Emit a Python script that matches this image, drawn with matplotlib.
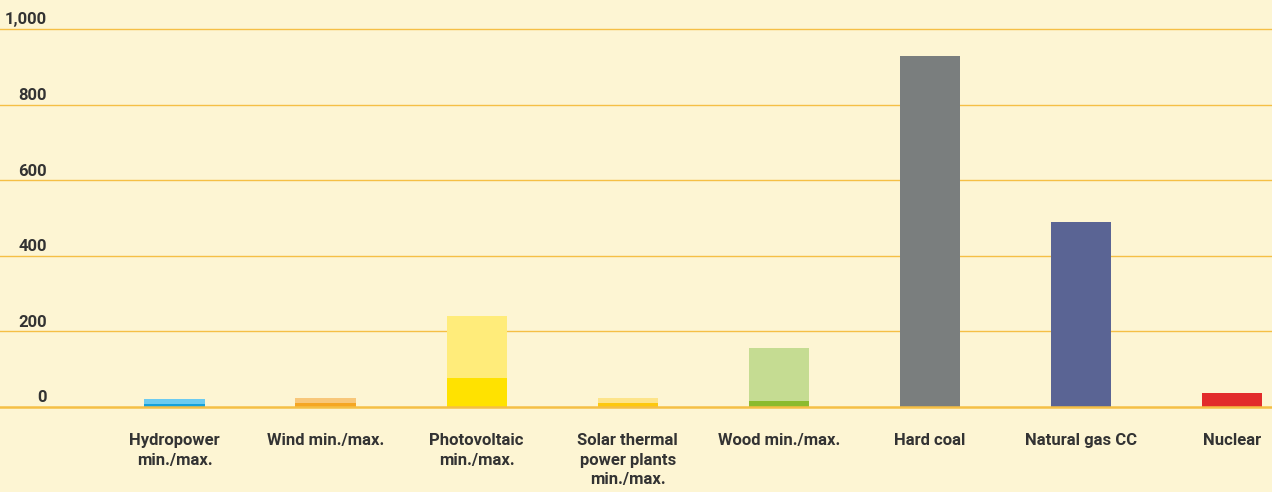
import matplotlib
matplotlib.use("Agg")
import matplotlib.pyplot as plt
import numpy as np

# CO2 emissions per kWh (g), min / max by technology
categories = ["Hydropower\nmin./max.", "Wind min./max.", "Photovoltaic\nmin./max.",
              "Solar thermal\npower plants\nmin./max.", "Wood min./max.",
              "Hard coal", "Natural gas CC", "Nuclear"]
val_min = [9, 11, 77, 11, 16, 929, 489, 37]
val_max = [22, 24, 241, 24, 156, 929, 489, 37]
yticks = [0, 200, 400, 600, 800, 1000]
ytick_labels = ["0", "200", "400", "600", "800", "1,000"]

col_light = ["#6ccbf0", "#f8c77a", "#ffec7a", "#fde48a", "#c5dc92", "#7a7e7e", "#5a6494", "#e22b2b"]
col_dark = ["#14a1db", "#f5a623", "#ffe200", "#fdc80f", "#8bbb2e", "#7a7e7e", "#5a6494", "#e22b2b"]

BG = "#fdf5d3"
GRID = "#f5bf45"
TXT = "#333333"
FONT = dict(family=["Roboto", "DejaVu Sans"], fontweight="bold")

fig = plt.figure(figsize=(12.72, 4.92), dpi=100, facecolor=BG)
ax = fig.add_axes([0, 0, 1, 1], facecolor=BG)

x = np.arange(len(categories))
ax.bar(x, val_max, width=0.40, color=col_light, zorder=3)
ax.bar(x, val_min, width=0.40, color=col_dark, zorder=3)

for v in yticks:
    ax.axhline(v, color=GRID, lw=1.0 if v else 1.8, zorder=2 if v else 4)
for v, lab in zip(yticks, ytick_labels):
    ax.text(-0.845, v + 4, lab, ha="right", va="bottom", color=TXT, fontsize=12, **FONT)
for xi, lab in zip(x, categories):
    ax.text(xi, -68, lab, ha="center", va="top", color=TXT, fontsize=12,
            linespacing=1.4, **FONT)

# 1 value unit = 0.378 px; value 0 at pixel row 407, 1000 at row 29
ax.set_xlim(-1.155, 7.263)
ax.set_ylim(-(492 - 407) / 0.378, 1000 + 29 / 0.378)
ax.set_xticks([])
ax.set_yticks([])
for s in ax.spines.values():
    s.set_visible(False)

fig.savefig("out.png", dpi=100, facecolor=BG)
